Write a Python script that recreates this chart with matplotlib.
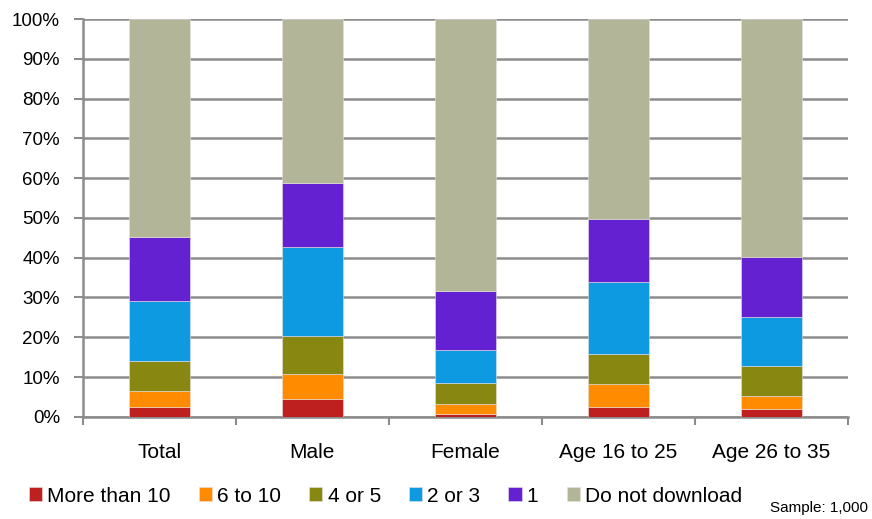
import matplotlib.pyplot as plt
import numpy as np

plt.rcParams['font.family'] = ['Liberation Sans', 'DejaVu Sans']

groups = ["Total", "Male", "Female", "Age 16 to 25", "Age 26 to 35"]
series = ["More than 10", "6 to 10", "4 or 5", "2 or 3", "1", "Do not download"]

more_than_10 = [2.5, 4.5, 0.6, 2.5, 2.0]
six_to_10 = [4.1, 6.2, 2.6, 5.7, 3.1]
four_or_5 = [7.5, 9.5, 5.3, 7.5, 7.6]
two_or_3 = [15.0, 22.6, 8.2, 18.1, 12.5]
one = [16.1, 16.0, 15.0, 15.9, 14.9]
do_not_download = [54.8, 41.2, 68.3, 50.3, 59.9]

colors = ["#BE2020", "#FF8C00", "#878711", "#0E9AE0", "#6321D2", "#B3B598"]

values = [more_than_10, six_to_10, four_or_5, two_or_3, one, do_not_download]

fig = plt.figure(figsize=(8.72, 5.19), dpi=100)
ax = fig.add_axes([0.095, 0.197, 0.8775, 0.766])

x = np.arange(len(groups))
bottom = np.zeros(len(groups))
for name, vals, col in zip(series, values, colors):
    ax.bar(x, vals, 0.4, bottom=bottom, color=col, label=name,
           edgecolor="#e8e0e0", linewidth=0.4, zorder=3)
    bottom += np.array(vals)

grey = "#8c8c8c"

ax.set_xlim(-0.5, len(groups) - 0.5)
ax.set_ylim(0, 100)
ax.set_yticks(np.arange(0, 101, 10))
ax.set_yticklabels([f"{v}%" for v in range(0, 101, 10)], fontsize=13.5)
ax.yaxis.grid(True, color=grey, linewidth=1.8, zorder=0)
ax.tick_params(axis="y", direction="out", length=6.5, width=1.5,
               color=grey, pad=10)

# category labels centred under the bars, ticks at the group boundaries
ax.set_xticks(np.arange(-0.5, len(groups)), minor=False)
ax.set_xticklabels([])
ax.set_xticks(x, minor=True)
ax.set_xticklabels(groups, minor=True, fontsize=15)
ax.tick_params(axis="x", which="major", direction="out", length=6,
               color=grey, width=1.5)
ax.tick_params(axis="x", which="minor", length=0, pad=19)

for s in ["top", "right"]:
    ax.spines[s].set_visible(False)
for s in ["bottom", "left"]:
    ax.spines[s].set_color(grey)
    ax.spines[s].set_linewidth(1.8)

fig.legend(loc="center left", bbox_to_anchor=(0.033, 1 - 496 / 519), ncol=6,
           frameon=False, fontsize=15, handlelength=0.63, handleheight=0.63,
           handletextpad=0.25, columnspacing=1.35, borderaxespad=0,
           borderpad=0)

fig.text(0.995, 0.008, "Sample: 1,000", ha="right", va="bottom", fontsize=11)

fig.savefig("out.png", dpi=100)
